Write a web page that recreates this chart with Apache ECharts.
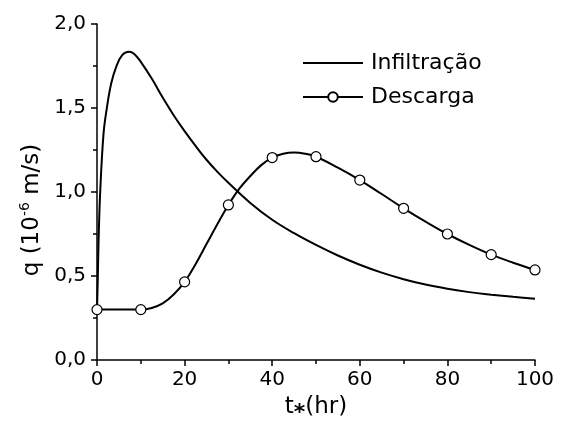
<!DOCTYPE html>
<html>
<head>
<meta charset="utf-8">
<script src="https://cdn.jsdelivr.net/npm/echarts@6/dist/echarts.min.js"></script>
<style>html,body{margin:0;padding:0;background:#fff}#c{width:561px;height:425px}</style>
</head>
<body>
<div id="c"></div>
<script>
// Infiltração curve (t in hr, q in 1e-6 m/s)
const infT = [0, 0.15, 0.35, 0.73, 1.5, 2.25, 3.25, 4.4, 5.75, 7.3, 8.5, 10, 12.5, 15, 17.5, 20, 22.5, 25, 27.5, 30, 35, 40, 45, 50, 55, 60, 65, 70, 75, 80, 85, 90, 95, 100];
const infQ = [0.30, 0.45, 0.70, 1.00, 1.35, 1.50, 1.647, 1.746, 1.815, 1.835, 1.822, 1.775, 1.675, 1.562, 1.457, 1.362, 1.274, 1.192, 1.12, 1.055, 0.935, 0.835, 0.755, 0.685, 0.622, 0.567, 0.52, 0.481, 0.449, 0.424, 0.404, 0.389, 0.376, 0.365];
// Descarga curve
const desT = [0, 5, 10, 12.5, 15, 17.5, 20, 22.5, 25, 27.5, 30, 32.5, 35, 37.5, 40, 42.5, 45, 47.5, 50, 55, 60, 65, 70, 75, 80, 85, 90, 95, 100];
const desQ = [0.30, 0.30, 0.30, 0.31, 0.337, 0.39, 0.465, 0.57, 0.69, 0.81, 0.923, 1.02, 1.095, 1.16, 1.205, 1.228, 1.235, 1.228, 1.21, 1.145, 1.071, 0.988, 0.903, 0.824, 0.75, 0.685, 0.627, 0.579, 0.536];
// marker times
const markT = [0, 10, 20, 30, 40, 50, 60, 70, 80, 90, 100];

const FONT = 'DejaVu Sans';
const chart = echarts.init(document.getElementById('c'));
const infData = infT.map((t, i) => [t, infQ[i]]);
const desData = desT.map((t, i) => {
  const d = { value: [t, desQ[i]] };
  if (markT.indexOf(t) < 0) d.symbol = 'none';
  return d;
});
chart.setOption({
  animation: false,
  backgroundColor: '#fff',
  grid: { left: 97, top: 24, right: 26, bottom: 65, outerBoundsMode: 'none', containLabel: false },
  legend: {
    orient: 'vertical', left: 297, top: 47,
    itemWidth: 60, itemHeight: 12, itemGap: 12,
    textStyle: { fontFamily: FONT, fontSize: 22, color: '#000', padding: [0, 0, 0, 3] },
    data: [{ name: 'Infiltração', itemStyle: { opacity: 0 } }, 'Descarga']
  },
  xAxis: {
    type: 'value', min: 0, max: 100, interval: 20,
    name: 't{sub|⁎}(hr)', nameLocation: 'middle', nameGap: 36,
    nameTextStyle: { fontFamily: FONT, fontSize: 23, color: '#000',
      rich: { sub: { fontFamily: FONT, fontSize: 22, fontWeight: 'bold', color: '#000' } } },
    axisLine: { lineStyle: { color: '#000', width: 1.5 } },
    axisTick: { show: true, inside: false, length: 6, lineStyle: { color: '#000', width: 1.5 } },
    minorTick: { show: true, splitNumber: 2, length: 4, lineStyle: { color: '#000', width: 1.5 } },
    splitLine: { show: false },
    axisLabel: { fontFamily: FONT, fontSize: 20, color: '#000', margin: 10 }
  },
  yAxis: {
    type: 'value', min: 0, max: 2, interval: 0.5,
    name: 'q (10{sup|-6} m/s)', nameLocation: 'middle', nameGap: 52, nameRotate: 90,
    nameTextStyle: { fontFamily: FONT, fontSize: 23, color: '#000', padding: [0, 36, 0, 0],
      rich: { sup: { fontFamily: FONT, fontSize: 14, verticalAlign: 'top', padding: [0, 0, 12, 0], color: '#000' } } },
    axisLine: { show: true, lineStyle: { color: '#000', width: 1.5 } },
    axisTick: { show: true, inside: false, length: 6, lineStyle: { color: '#000', width: 1.5 } },
    minorTick: { show: true, splitNumber: 2, length: 4, lineStyle: { color: '#000', width: 1.5 } },
    splitLine: { show: false },
    axisLabel: { fontFamily: FONT, fontSize: 20, color: '#000', margin: 11,
      formatter: v => v.toFixed(1).replace('.', ',') }
  },
  series: [
    {
      name: 'Infiltração', type: 'line', data: infData, smooth: 0.4,
      symbol: 'none', lineStyle: { color: '#000', width: 2 }, itemStyle: { color: '#000', opacity: 0 }
    },
    {
      name: 'Descarga', type: 'line', data: desData, smooth: 0.4,
      symbol: 'circle', symbolSize: 10, showAllSymbol: true,
      lineStyle: { color: '#000', width: 2 },
      itemStyle: { color: '#fff', borderColor: '#000', borderWidth: 1.2 }
    }
  ]
});
</script>
</body>
</html>
